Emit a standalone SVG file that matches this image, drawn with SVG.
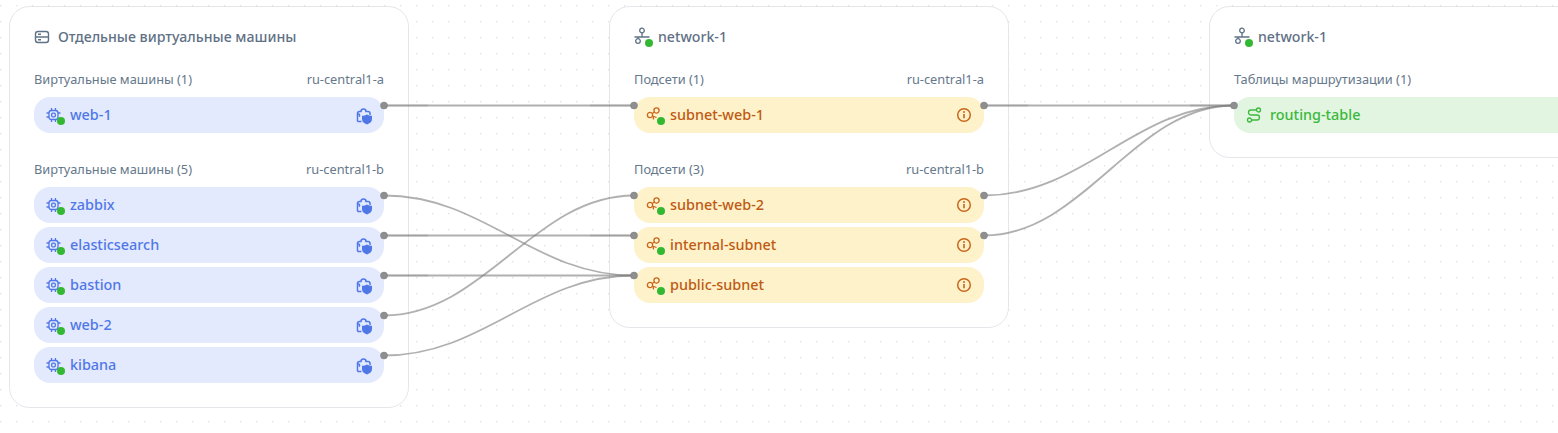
<svg xmlns="http://www.w3.org/2000/svg" width="1558" height="433" viewBox="0 0 1558 433">
<style>
text{font-family:"Noto Sans","Open Sans",sans-serif}
.panel{fill:#fff;stroke:#e4e6ea;stroke-width:1}
.title{font-size:14.150px;fill:#5f7186;font-weight:500}
.sub{font-size:12.800px;fill:#66788c}
.name{font-size:14.400px;font-weight:500}
.vm{fill:#e4eafd}.vmt{fill:#4f77e8}
.sn{fill:#fef2cb}.snt{fill:#bf5a12}
.rt{fill:#e1f5e0}.rtt{fill:#3cb83c}
.st{fill:#34b834}
.line{fill:none;stroke:#808080;stroke-opacity:.62;stroke-width:1.800}
.port{fill:#8f8f8f;stroke:#777;stroke-width:.5}
.ic{fill:none;stroke-width:1.300}
</style>
<defs>
<pattern id="dots" width="16" height="16" patternUnits="userSpaceOnUse" x="0" y="5"><rect x="0" y="0" width="1.400" height="1.400" fill="#e2e2e2"/></pattern>
<g id="vmi" class="ic" stroke="#4f77e8"><rect x="-4.500" y="-4.500" width="9" height="9" rx="2.500"/><rect x="-1.800" y="-1.800" width="3.600" height="3.600" rx="1"/><path d="M-2-7v2.500M2-7v2.500M-2 4.500v2.500M2 4.500v2.500M-7-2h2.500M-7 2h2.500M4.500-2h2.500"/></g>
<g id="shield"><path d="M-6.500 6.500V-1.500a2 2 0 0 1 2-2h1.500a2.500 2.500 0 0 1 5 0h2a2 2 0 0 1 2 2V0M-6.500-1.500c2 .3 2.500 1.500 1.800 3.200M-6.500 6.500h4" fill="none" stroke="#4f77e8" stroke-width="1.500"/><path d="M3-.5c1.500 1 3 1.300 5 1.300v3.500c0 2.500-2.200 4.200-5 5.200-2.800-1-5-2.700-5-5.200V.8c2 0 3.500-.3 5-1.300z" fill="#4f77e8"/></g>
<g id="sni" class="ic" stroke="#c8661a"><circle cx="-4" cy="0" r="2.600"/><circle cx="2.500" cy="-4.500" r="2.600"/><path d="M-1.700-1.500l2.200-1.500M-1.500 1l4 1.500M-1 1l.5 3.500"/></g>
<g id="info"><circle r="6.300" fill="none" stroke="#c8661a" stroke-width="1.500"/><rect x="-.8" y="-1" width="1.600" height="4.300" fill="#c8661a"/><circle cy="-3" r="1" fill="#c8661a"/></g>
<g id="neti" class="ic" stroke="#5f7186"><circle cx="0" cy="-5.500" r="2.300"/><circle cx="-4" cy="5" r="2.300"/><path d="M0-3.200V1M-7.500 1H7.500M-4 1v1.700"/></g>
</defs>
<rect width="1558" height="433" fill="#fff"/>
<rect width="1558" height="433" fill="url(#dots)"/>

<g id="panel-vms">
<rect class="panel" x="9.500" y="6.500" width="399" height="401" rx="20"/>
<g transform="translate(42,37)" fill="none" stroke="#5f7186" stroke-width="1.400"><rect x="-6.500" y="-5.500" width="13" height="11" rx="2.500"/><path d="M-6.500 0H6.500M-4-2.700H-1M-4 2.700H-1"/></g>
<text class="title" x="58" y="42">Отдельные виртуальные машины</text>
<text class="sub" x="34" y="84">Виртуальные машины (1)</text>
<text class="sub" x="384" y="84" text-anchor="end">ru-central1-a</text>
<text class="sub" x="34" y="174">Виртуальные машины (5)</text>
<text class="sub" x="384" y="174" text-anchor="end">ru-central1-b</text>
</g>
<g id="panel-net-1">
<rect class="panel" x="609.500" y="6.500" width="399" height="321" rx="20"/>
<use href="#neti" x="642" y="36"/><circle class="st" cx="649" cy="43" r="4"/>
<text class="title" x="658" y="42">network-1</text>
<text class="sub" x="634" y="84">Подсети (1)</text>
<text class="sub" x="984" y="84" text-anchor="end">ru-central1-a</text>
<text class="sub" x="634" y="174">Подсети (3)</text>
<text class="sub" x="984" y="174" text-anchor="end">ru-central1-b</text>
</g>
<g id="panel-net-2">
<rect class="panel" x="1209.500" y="6.500" width="420" height="151" rx="20"/>
<use href="#neti" x="1242" y="36"/><circle class="st" cx="1249" cy="43" r="4"/>
<text class="title" x="1258" y="42">network-1</text>
<text class="sub" x="1234" y="84">Таблицы маршрутизации (1)</text>
</g>

<g id="vm-web-1"><rect class="vm" x="34" y="97" width="350" height="36" rx="16"/><use href="#vmi" x="53.500" y="115"/><circle class="st" cx="61" cy="121" r="4"/><text class="name vmt" x="70" y="120">web-1</text><use href="#shield" x="364" y="115"/></g>
<g id="vm-zabbix"><rect class="vm" x="34" y="187" width="350" height="36" rx="16"/><use href="#vmi" x="53.500" y="205"/><circle class="st" cx="61" cy="211" r="4"/><text class="name vmt" x="70" y="210">zabbix</text><use href="#shield" x="364" y="205"/></g>
<g id="vm-elasticsearch"><rect class="vm" x="34" y="227" width="350" height="36" rx="16"/><use href="#vmi" x="53.500" y="245"/><circle class="st" cx="61" cy="251" r="4"/><text class="name vmt" x="70" y="250">elasticsearch</text><use href="#shield" x="364" y="245"/></g>
<g id="vm-bastion"><rect class="vm" x="34" y="267" width="350" height="36" rx="16"/><use href="#vmi" x="53.500" y="285"/><circle class="st" cx="61" cy="291" r="4"/><text class="name vmt" x="70" y="290">bastion</text><use href="#shield" x="364" y="285"/></g>
<g id="vm-web-2"><rect class="vm" x="34" y="307" width="350" height="36" rx="16"/><use href="#vmi" x="53.500" y="325"/><circle class="st" cx="61" cy="331" r="4"/><text class="name vmt" x="70" y="330">web-2</text><use href="#shield" x="364" y="325"/></g>
<g id="vm-kibana"><rect class="vm" x="34" y="347" width="350" height="36" rx="16"/><use href="#vmi" x="53.500" y="365"/><circle class="st" cx="61" cy="371" r="4"/><text class="name vmt" x="70" y="370">kibana</text><use href="#shield" x="364" y="365"/></g>

<g id="subnet-web-1"><rect class="sn" x="634" y="97" width="350" height="36" rx="16"/><use href="#sni" x="654" y="115"/><circle class="st" cx="661" cy="121" r="4"/><text class="name snt" x="670" y="120">subnet-web-1</text><use href="#info" x="964" y="115"/></g>
<g id="subnet-web-2"><rect class="sn" x="634" y="187" width="350" height="36" rx="16"/><use href="#sni" x="654" y="205"/><circle class="st" cx="661" cy="211" r="4"/><text class="name snt" x="670" y="210">subnet-web-2</text><use href="#info" x="964" y="205"/></g>
<g id="internal-subnet"><rect class="sn" x="634" y="227" width="350" height="36" rx="16"/><use href="#sni" x="654" y="245"/><circle class="st" cx="661" cy="251" r="4"/><text class="name snt" x="670" y="250">internal-subnet</text><use href="#info" x="964" y="245"/></g>
<g id="public-subnet"><rect class="sn" x="634" y="267" width="350" height="36" rx="16"/><use href="#sni" x="654" y="285"/><circle class="st" cx="661" cy="291" r="4"/><text class="name snt" x="670" y="290">public-subnet</text><use href="#info" x="964" y="285"/></g>

<g id="routing-table"><rect class="rt" x="1234" y="97" width="400" height="36" rx="16"/><g class="ic" stroke="#3cb83c" transform="translate(1254,115)"><circle cx="-4.500" cy="5" r="2"/><circle cx="4.500" cy="-5" r="2"/><path d="M2.500-5H-3a2.500 2.500 0 0 0 0 5H3a2.500 2.500 0 0 1 0 5H-2.500"/></g><text class="name rtt" x="1270" y="120">routing-table</text></g>

<g id="connectors">
<path class="line" d="M384 105.500C484 105.500 534 105.500 634 105.500"/>
<path class="line" d="M384 195.500C484 195.500 534 275.500 634 275.500"/>
<path class="line" d="M384 235.500C484 235.500 534 235.500 634 235.500"/>
<path class="line" d="M384 275.500C484 275.500 534 275.500 634 275.500"/>
<path class="line" d="M384 315.500C484 315.500 534 195.500 634 195.500"/>
<path class="line" d="M384 355.500C484 355.500 534 275.500 634 275.500"/>
<path class="line" d="M984 105.500C1084 105.500 1134 105.500 1234 105.500"/>
<path class="line" d="M984 195.500C1084 195.500 1134 105.500 1234 105.500"/>
<path class="line" d="M984 235.500C1084 235.500 1134 105.500 1234 105.500"/>
<path d="M384 105.500H428M590 105.500H634M384 235.500H428M590 235.500H634M384 275.500H428M984 105.500H1028M1190 105.500H1234" fill="none" stroke="#808080" stroke-opacity=".3" stroke-width="1.800"/>
<g class="port"><circle cx="384" cy="105.500" r="3.500"/><circle cx="384" cy="195.500" r="3.500"/><circle cx="384" cy="235.500" r="3.500"/><circle cx="384" cy="275.500" r="3.500"/><circle cx="384" cy="315.500" r="3.500"/><circle cx="384" cy="355.500" r="3.500"/><circle cx="634" cy="105.500" r="3.500"/><circle cx="634" cy="195.500" r="3.500"/><circle cx="634" cy="235.500" r="3.500"/><circle cx="634" cy="275.500" r="3.500"/><circle cx="984" cy="105.500" r="3.500"/><circle cx="984" cy="195.500" r="3.500"/><circle cx="984" cy="235.500" r="3.500"/><circle cx="1234" cy="105.500" r="3.500"/></g>
</g>
</svg>
